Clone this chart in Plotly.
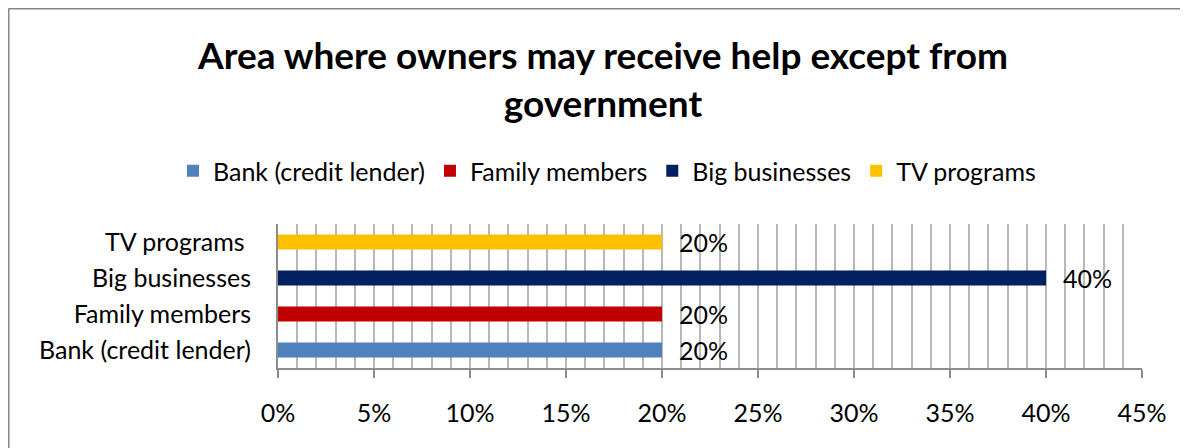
import plotly.graph_objects as go

categories = ["Bank (credit lender)", "Family members", "Big businesses", "TV programs"]
tick_labels = ["Bank (credit lender)", "Family members", "Big businesses", "TV programs "]
values = [0.20, 0.20, 0.40, 0.20]
colors = ["#4F81BD", "#C00000", "#002060", "#FFC000"]
x_ticks = [0, 0.05, 0.10, 0.15, 0.20, 0.25, 0.30, 0.35, 0.40, 0.45]
title = "Area where owners may receive help except from<br>government"

OFF = 8  # page body margin
W, H = 1180, 440
L, R, T, B = 278 - OFF, 1142 - OFF, 224 - OFF, 368 - OFF
FONT = "Lato"
FS = 25

fig = go.Figure()
for cat, val, col in zip(categories, values, colors):
    fig.add_trace(go.Bar(
        y=[cat], x=[val], orientation="h", name=cat,
        marker=dict(color=col, line=dict(width=0)), width=0.42,
    ))
    fig.add_annotation(
        x=val, y=cat, xref="x", yref="y", text=f"{val:.0%}",
        showarrow=False, xanchor="left", xshift=15,
        font=dict(family=FONT, size=FS, color="#000"),
    )

def px_x(p):
    return (p - OFF - L) / (R - L)

def px_y(p):
    return (B - (p - OFF)) / (B - T)

# chart outer border (top and left visible)
fig.add_shape(type="line", xref="paper", yref="paper",
              x0=px_x(8.5), x1=px_x(1200), y0=px_y(8.5), y1=px_y(8.5),
              line=dict(color="#868686", width=2))
fig.add_shape(type="line", xref="paper", yref="paper",
              x0=px_x(8.5), x1=px_x(8.5), y0=px_y(8.5), y1=px_y(470),
              line=dict(color="#868686", width=2))

fig.update_layout(
    width=W, height=H,
    margin=dict(l=L, r=W - R, t=T, b=H - B, pad=0),
    paper_bgcolor="white", plot_bgcolor="white",
    barmode="overlay",
    font=dict(family=FONT, size=FS, color="#000"),
    title=dict(text=title, x=(603 - OFF) / W, xanchor="center",
               y=1 - (69 - OFF) / H, yanchor="middle",
               font=dict(family=FONT, size=37, color="#000", weight="bold")),
    legend=dict(orientation="h", x=px_x(607), xanchor="center",
                y=px_y(171), yanchor="middle",
                font=dict(family=FONT, size=FS, color="#000"),
                itemwidth=30, traceorder="normal"),
    showlegend=True,
)
fig.update_xaxes(
    range=[0, 0.45], tickvals=x_ticks, tickformat=".0%",
    showgrid=True, gridcolor="#B8B8B8", gridwidth=1.6,
    minor=dict(dtick=0.01, tick0=0, showgrid=True, gridcolor="#B8B8B8", gridwidth=1.6),
    showline=True, linecolor="#8C8C8C", linewidth=2,
    ticks="outside", ticklen=8, tickwidth=2, tickcolor="#8C8C8C",
    ticklabelstandoff=14, zeroline=False,
    tickfont=dict(family=FONT, size=FS, color="#000"),
)
fig.update_yaxes(
    categoryorder="array", categoryarray=categories,
    tickvals=categories, ticktext=tick_labels,
    showgrid=False, showline=True, linecolor="#8C8C8C", linewidth=2,
    ticks="", ticklabelstandoff=20, range=[-0.5, 3.5],
    tickfont=dict(family=FONT, size=FS, color="#000"),
)

fig.write_html("out.html")
